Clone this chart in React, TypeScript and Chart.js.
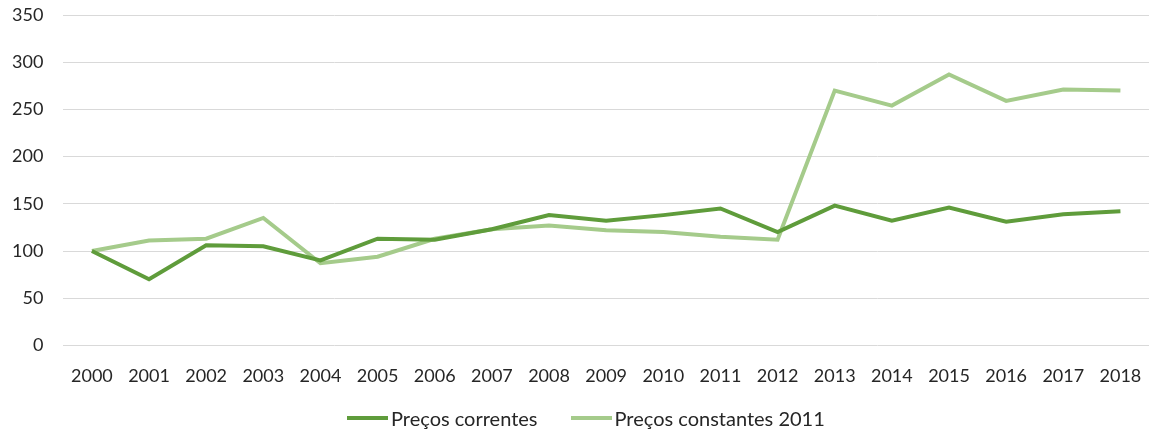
import React, { useEffect, useRef } from "react";
import { Chart, registerables } from "chart.js";

Chart.register(...registerables);

const years = ["2000","2001","2002","2003","2004","2005","2006","2007","2008","2009","2010","2011","2012","2013","2014","2015","2016","2017","2018"];
const precosCorrentes = [100, 70, 106, 105, 90, 113, 112, 123, 138, 132, 138, 145, 120, 148, 132, 146, 131, 139, 142];
const precosConstantes2011 = [100, 111, 113, 135, 87, 94, 113, 123, 127, 122, 120, 115, 112, 270, 254, 287, 259, 271, 270];
const yTicks = [0, 50, 100, 150, 200, 250, 300, 350];
const seriesNames = ["Preços correntes", "Preços constantes 2011"];

const DARK = "#5F9C3B";
const LIGHT = "#A5CB8B";
const TEXT = "#262626";
const FONT = "Lato, 'Open Sans', sans-serif";
const colors = [DARK, LIGHT];

export default function App() {
  const ref = useRef<HTMLCanvasElement | null>(null);
  useEffect(() => {
    document.body.style.margin = "0";
    document.body.style.overflow = "hidden";
    const ctx = ref.current!;
    const chart = new Chart(ctx, {
      type: "line",
      data: {
        labels: years,
        datasets: [
          { label: seriesNames[0], data: precosCorrentes, borderColor: DARK, backgroundColor: DARK, borderWidth: 4, pointRadius: 0, tension: 0, fill: false },
          { label: seriesNames[1], data: precosConstantes2011, borderColor: LIGHT, backgroundColor: LIGHT, borderWidth: 4, pointRadius: 0, tension: 0, fill: false },
        ],
      },
      options: {
        animation: false,
        responsive: true,
        maintainAspectRatio: false,
        layout: { padding: { top: 15, left: 10, right: 0, bottom: 41 } },
        plugins: {
          tooltip: { enabled: false },
          legend: { display: false },
        },
        scales: {
          x: {
            offset: true,
            grid: { display: true, drawOnChartArea: false, drawTicks: true, tickLength: 18, color: "transparent", tickColor: "transparent" },
            border: { display: false },
            ticks: { color: TEXT, font: { family: FONT, size: 18 }, padding: 2, maxRotation: 0, autoSkip: false },
          },
          y: {
            min: 0,
            max: 350,
            afterBuildTicks: (axis: any) => { axis.ticks = yTicks.map((v) => ({ value: v })); },
            grid: { color: "#D9D9D9", lineWidth: 1, drawTicks: true, tickLength: 18, tickColor: "transparent" },
            border: { display: false },
            ticks: { color: TEXT, font: { family: FONT, size: 18 }, padding: 2 },
          },
        },
      },
    });
    return () => chart.destroy();
  }, []);
  return (
    <div style={{ position: "relative", width: 1149, height: 430 }}>
      <canvas ref={ref} />
      <div
        style={{
          position: "absolute",
          left: 347,
          top: 405,
          height: 26,
          display: "flex",
          alignItems: "center",
          fontFamily: FONT,
          fontSize: 20,
          color: TEXT,
          whiteSpace: "nowrap",
        }}
      >
        {seriesNames.map((name, i) => (
          <div key={name} style={{ display: "flex", alignItems: "center", marginLeft: i === 0 ? 0 : 33 }}>
            <span style={{ display: "inline-block", width: 41, height: 4, background: colors[i], marginRight: 3 }} />
            <span>{name}</span>
          </div>
        ))}
      </div>
    </div>
  );
}
